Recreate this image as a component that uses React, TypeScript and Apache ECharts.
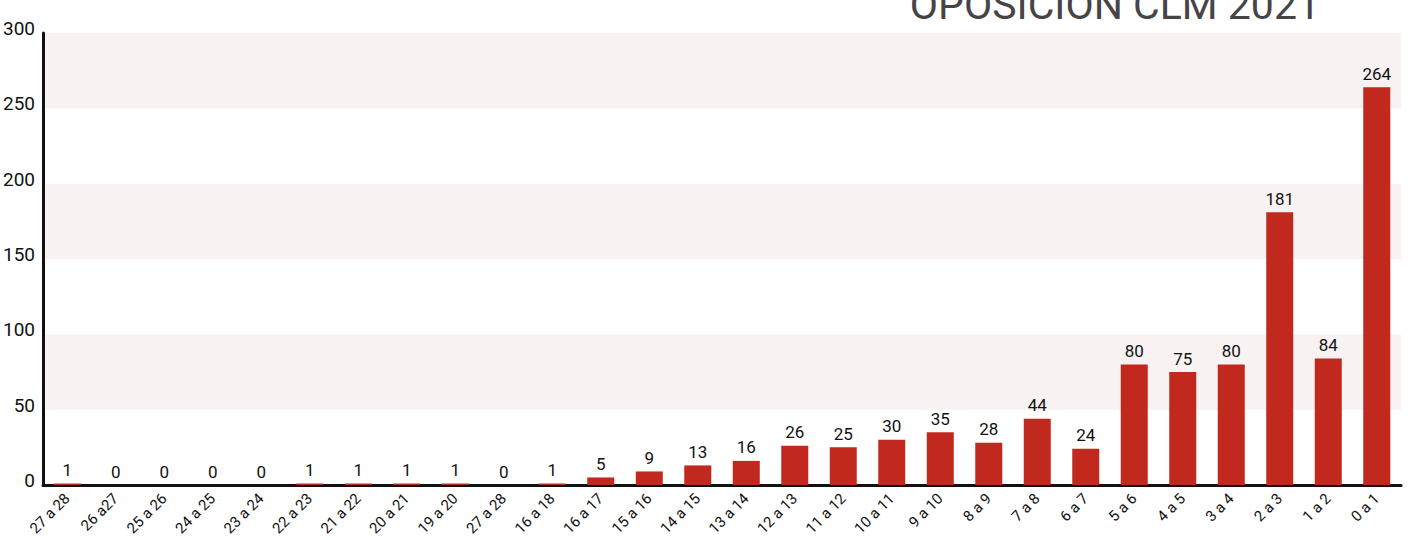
import React, { useEffect, useRef } from "react";
import * as echarts from "echarts";

const categories = [
  "27 a 28", "26 a27", "25 a 26", "24 a 25", "23 a 24", "22 a 23", "21 a 22", "20 a 21", "19 a 20", "27 a 28",
  "16 a 18", "16 a 17", "15 a 16", "14 a 15", "13 a 14", "12 a 13", "11 a 12", "10 a 11", "9 a 10", "8 a 9",
  "7 a 8", "6 a 7", "5 a 6", "4 a 5", "3 a 4", "2 a 3", "1 a 2", "0 a 1",
];
const values = [1, 0, 0, 0, 0, 1, 1, 1, 1, 0, 1, 5, 9, 13, 16, 26, 25, 30, 35, 28, 44, 24, 80, 75, 80, 181, 84, 264];
const yTicks = { min: 0, max: 300, interval: 50 };
const title = "OPOSICIÓN CLM 2021";

const FONT = "'Liberation Sans Narrow', Roboto";

export default function App() {
  const ref = useRef<HTMLDivElement>(null);
  useEffect(() => {
    if (!ref.current) return;
    const chart = echarts.init(ref.current, null, { renderer: "svg" });
    chart.setOption({
      animation: false,
      backgroundColor: "#ffffff",
      graphic: [
        {
          type: "text",
          x: 1320,
          y: 5,
          style: {
            text: title,
            fontFamily: FONT,
            fontSize: 41,
            fontWeight: "normal",
            fill: "#464446",
            align: "right",
            verticalAlign: "middle",
          },
        },
      ],
      grid: { left: 43, right: 7, top: 33, bottom: 55 },
      xAxis: {
        type: "category",
        data: categories,
        axisLine: { lineStyle: { color: "#111", width: 3 } },
        axisTick: { show: false },
        axisLabel: { rotate: 45, fontFamily: FONT, fontSize: 15, color: "#111", margin: 11, interval: 0 },
      },
      yAxis: {
        type: "value",
        min: yTicks.min,
        max: yTicks.max,
        interval: yTicks.interval,
        axisLine: { show: true, lineStyle: { color: "#111", width: 3 } },
        axisTick: { show: false },
        splitLine: { show: false },
        splitArea: { show: true, areaStyle: { color: ["#ffffff", "#f8f3f2"] } },
        axisLabel: {
          fontFamily: FONT,
          fontSize: 19,
          color: "#111",
          margin: 8,
          verticalAlign: "bottom",
          lineHeight: 9,
        },
      },
      series: [
        {
          type: "bar",
          data: values,
          barWidth: 27,
          itemStyle: { color: "#c1281e" },
          label: { show: true, position: "top", fontFamily: FONT, fontSize: 17, color: "#111", distance: 5 },
        },
      ],
    });
    return () => chart.dispose();
  }, []);
  return <div ref={ref} style={{ position: "fixed", left: 0, top: 0, width: 1408, height: 540 }} />;
}
